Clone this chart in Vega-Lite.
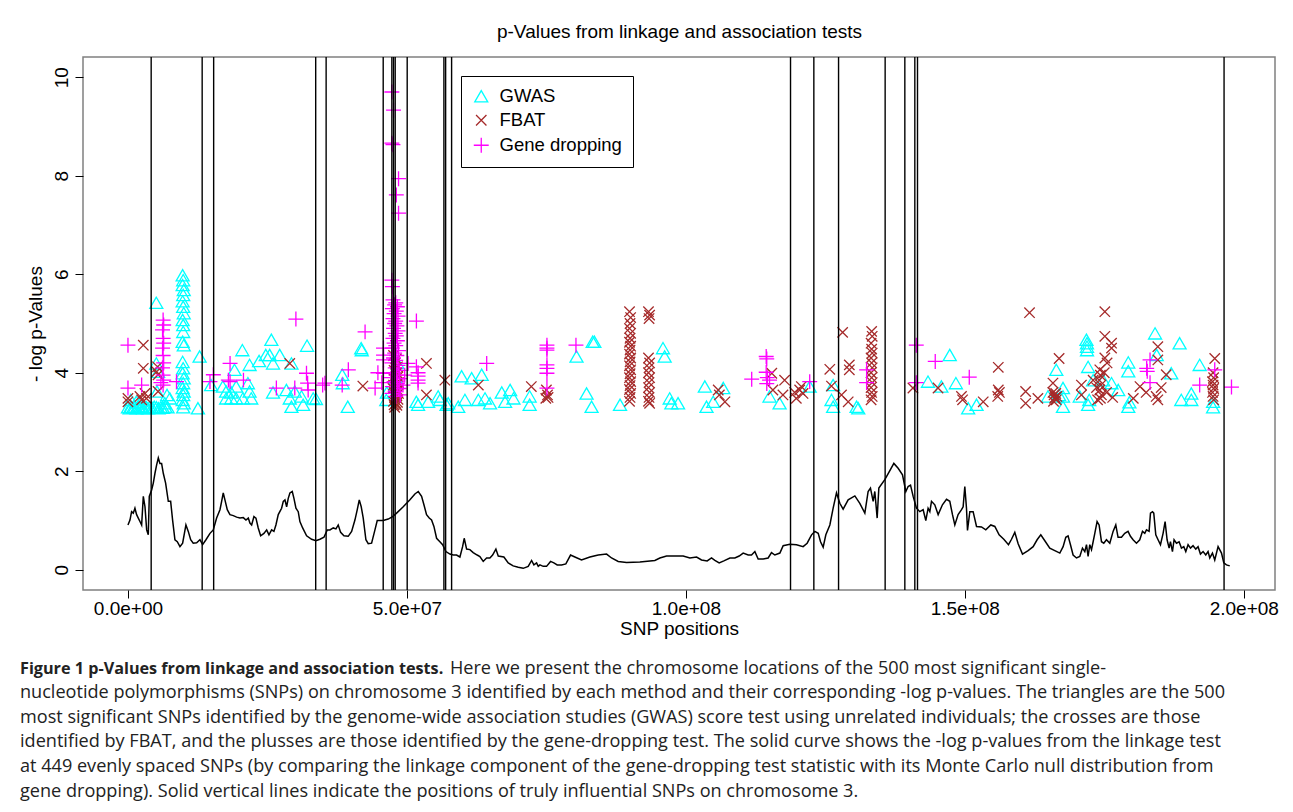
{
"$schema": "https://vega.github.io/schema/vega-lite/v6.json",
"width": 1192, "height": 533,
"autosize": {"type": "none"},
"padding": {"left": 83, "top": 57, "right": 18, "bottom": 222},
"background": "white",
"datasets": {
"snps": [
{"method":"GWAS","pos":0,"logp":3.3},{"method":"GWAS","pos":0.3,"logp":3.28},{"method":"GWAS","pos":0.6,"logp":3.31},{"method":"GWAS","pos":0.9,"logp":3.29},{"method":"GWAS","pos":1.2,"logp":3.3},{"method":"GWAS","pos":1.5,"logp":3.28},{"method":"GWAS","pos":1.8,"logp":3.32},{"method":"GWAS","pos":2.1,"logp":3.29},{"method":"GWAS","pos":2.4,"logp":3.3},{"method":"GWAS","pos":2.7,"logp":3.28},{"method":"GWAS","pos":3.0,"logp":3.31},{"method":"GWAS","pos":3.3,"logp":3.3},{"method":"GWAS","pos":3.6,"logp":3.28},{"method":"GWAS","pos":3.9,"logp":3.3},{"method":"GWAS","pos":4.3,"logp":3.29},{"method":"GWAS","pos":4.7,"logp":3.31},{"method":"GWAS","pos":5.1,"logp":3.3},{"method":"GWAS","pos":5.5,"logp":3.28},{"method":"GWAS","pos":5.9,"logp":3.3},{"method":"GWAS","pos":6.3,"logp":3.29},{"method":"GWAS","pos":6.7,"logp":3.31},{"method":"GWAS","pos":7.1,"logp":3.3},{"method":"GWAS","pos":1.5,"logp":3.41},{"method":"GWAS","pos":0.5,"logp":3.45},{"method":"GWAS","pos":2.2,"logp":3.38},{"method":"GWAS","pos":5.08,"logp":5.42},{"method":"GWAS","pos":5.08,"logp":4.19},{"method":"GWAS","pos":5.4,"logp":4.02},{"method":"GWAS","pos":5.2,"logp":3.62},{"method":"GWAS","pos":6.6,"logp":3.38},{"method":"GWAS","pos":7.5,"logp":3.48},{"method":"GWAS","pos":7.0,"logp":3.55},
{"method":"GWAS","pos":9.8,"logp":5.98},{"method":"GWAS","pos":9.9,"logp":5.88},{"method":"GWAS","pos":9.8,"logp":5.78},{"method":"GWAS","pos":10.0,"logp":5.68},{"method":"GWAS","pos":9.9,"logp":5.58},{"method":"GWAS","pos":9.8,"logp":5.45},{"method":"GWAS","pos":9.9,"logp":5.34},{"method":"GWAS","pos":10.0,"logp":5.21},{"method":"GWAS","pos":9.8,"logp":5.07},{"method":"GWAS","pos":9.9,"logp":4.97},{"method":"GWAS","pos":9.9,"logp":4.83},{"method":"GWAS","pos":9.8,"logp":4.63},{"method":"GWAS","pos":10.0,"logp":4.56},{"method":"GWAS","pos":9.8,"logp":4.22},{"method":"GWAS","pos":9.9,"logp":4.09},{"method":"GWAS","pos":9.8,"logp":3.99},{"method":"GWAS","pos":10.0,"logp":3.89},{"method":"GWAS","pos":9.9,"logp":3.79},{"method":"GWAS","pos":9.8,"logp":3.69},{"method":"GWAS","pos":10.0,"logp":3.62},{"method":"GWAS","pos":9.9,"logp":3.55},{"method":"GWAS","pos":9.8,"logp":3.45},{"method":"GWAS","pos":10.0,"logp":3.38},{"method":"GWAS","pos":9.9,"logp":3.3},
{"method":"GWAS","pos":12.84,"logp":4.33},{"method":"GWAS","pos":12.54,"logp":3.28},{"method":"GWAS","pos":14.9,"logp":3.75},{"method":"GWAS","pos":17.0,"logp":3.72},{"method":"GWAS","pos":17.6,"logp":3.62},{"method":"GWAS","pos":17.6,"logp":3.48},{"method":"GWAS","pos":18.5,"logp":3.48},{"method":"GWAS","pos":18.5,"logp":3.6},{"method":"GWAS","pos":19.4,"logp":3.48},{"method":"GWAS","pos":19.4,"logp":3.72},{"method":"GWAS","pos":19.1,"logp":4.06},{"method":"GWAS","pos":20.5,"logp":4.46},{"method":"GWAS","pos":20.6,"logp":3.48},{"method":"GWAS","pos":21.5,"logp":3.79},{"method":"GWAS","pos":21.8,"logp":3.62},{"method":"GWAS","pos":22.1,"logp":3.48},{"method":"GWAS","pos":21.8,"logp":4.16},{"method":"GWAS","pos":23.5,"logp":4.24},{"method":"GWAS","pos":24.7,"logp":4.36},{"method":"GWAS","pos":25.4,"logp":4.36},{"method":"GWAS","pos":25.7,"logp":4.67},{"method":"GWAS","pos":26.0,"logp":4.19},{"method":"GWAS","pos":27.2,"logp":4.36},{"method":"GWAS","pos":26.0,"logp":3.6},{"method":"GWAS","pos":28.4,"logp":3.65},{"method":"GWAS","pos":29.0,"logp":3.48},{"method":"GWAS","pos":29.3,"logp":3.31},{"method":"GWAS","pos":29.3,"logp":4.19},{"method":"GWAS","pos":29.9,"logp":3.62},{"method":"GWAS","pos":31.1,"logp":3.52},{"method":"GWAS","pos":31.4,"logp":3.35},{"method":"GWAS","pos":32.1,"logp":4.55},{"method":"GWAS","pos":33.2,"logp":3.48},{"method":"GWAS","pos":33.7,"logp":3.47},{"method":"GWAS","pos":38.4,"logp":3.96},{"method":"GWAS","pos":38.5,"logp":3.79},{"method":"GWAS","pos":39.4,"logp":3.31},{"method":"GWAS","pos":41.8,"logp":4.5},{"method":"GWAS","pos":41.9,"logp":4.46},{"method":"GWAS","pos":46.3,"logp":3.45},{"method":"GWAS","pos":46.4,"logp":3.6},{"method":"GWAS","pos":48.0,"logp":3.9},{"method":"GWAS","pos":48.3,"logp":4.2},
{"method":"GWAS","pos":51.7,"logp":3.41},{"method":"GWAS","pos":52.0,"logp":3.35},{"method":"GWAS","pos":53.8,"logp":3.41},{"method":"GWAS","pos":55.6,"logp":3.52},{"method":"GWAS","pos":55.9,"logp":3.45},{"method":"GWAS","pos":57.1,"logp":3.35},{"method":"GWAS","pos":57.4,"logp":3.38},{"method":"GWAS","pos":59.2,"logp":3.31},{"method":"GWAS","pos":59.8,"logp":3.93},{"method":"GWAS","pos":60.4,"logp":3.45},{"method":"GWAS","pos":61.6,"logp":3.89},{"method":"GWAS","pos":62.8,"logp":3.45},{"method":"GWAS","pos":63.4,"logp":3.96},{"method":"GWAS","pos":64.0,"logp":3.48},{"method":"GWAS","pos":64.9,"logp":3.38},{"method":"GWAS","pos":67.0,"logp":3.6},{"method":"GWAS","pos":67.6,"logp":3.41},{"method":"GWAS","pos":68.5,"logp":3.65},{"method":"GWAS","pos":69.1,"logp":3.48},{"method":"GWAS","pos":72.0,"logp":3.52},{"method":"GWAS","pos":72.0,"logp":3.35},
{"method":"GWAS","pos":80.4,"logp":4.33},{"method":"GWAS","pos":82.2,"logp":3.58},{"method":"GWAS","pos":83.1,"logp":3.31},{"method":"GWAS","pos":83.3,"logp":4.63},{"method":"GWAS","pos":83.6,"logp":4.63},{"method":"GWAS","pos":88.2,"logp":3.35},{"method":"GWAS","pos":95.9,"logp":4.5},{"method":"GWAS","pos":96.2,"logp":4.33},{"method":"GWAS","pos":97.1,"logp":3.48},{"method":"GWAS","pos":97.4,"logp":3.38},{"method":"GWAS","pos":98.6,"logp":3.38},{"method":"GWAS","pos":103.4,"logp":3.72},{"method":"GWAS","pos":103.7,"logp":3.31},{"method":"GWAS","pos":104.9,"logp":3.41},{"method":"GWAS","pos":106.7,"logp":3.69},{"method":"GWAS","pos":115.0,"logp":3.52},{"method":"GWAS","pos":116.8,"logp":3.38},{"method":"GWAS","pos":122.2,"logp":3.72},{"method":"GWAS","pos":126.4,"logp":3.75},{"method":"GWAS","pos":126.1,"logp":3.45},{"method":"GWAS","pos":126.4,"logp":3.31},{"method":"GWAS","pos":130.6,"logp":3.31},{"method":"GWAS","pos":130.9,"logp":3.28},
{"method":"GWAS","pos":143.4,"logp":3.82},{"method":"GWAS","pos":145.8,"logp":3.72},{"method":"GWAS","pos":147.3,"logp":4.36},{"method":"GWAS","pos":148.4,"logp":3.79},{"method":"GWAS","pos":150.6,"logp":3.28},{"method":"GWAS","pos":152.1,"logp":3.35},{"method":"GWAS","pos":164.9,"logp":3.52},{"method":"GWAS","pos":166.4,"logp":4.06},{"method":"GWAS","pos":166.9,"logp":3.55},{"method":"GWAS","pos":167.6,"logp":3.69},{"method":"GWAS","pos":167.6,"logp":3.52},{"method":"GWAS","pos":167.6,"logp":3.31},{"method":"GWAS","pos":171.8,"logp":4.67},{"method":"GWAS","pos":171.9,"logp":4.6},{"method":"GWAS","pos":171.9,"logp":4.53},{"method":"GWAS","pos":171.9,"logp":4.46},{"method":"GWAS","pos":172.1,"logp":4.12},{"method":"GWAS","pos":170.6,"logp":3.52},{"method":"GWAS","pos":172.1,"logp":3.35},{"method":"GWAS","pos":172.3,"logp":3.45},{"method":"GWAS","pos":173.0,"logp":3.85},{"method":"GWAS","pos":174.8,"logp":3.85},{"method":"GWAS","pos":176.3,"logp":3.79},{"method":"GWAS","pos":177.5,"logp":3.65},{"method":"GWAS","pos":179.3,"logp":4.21},{"method":"GWAS","pos":179.3,"logp":4.03},{"method":"GWAS","pos":179.3,"logp":3.31},{"method":"GWAS","pos":179.5,"logp":3.4},{"method":"GWAS","pos":184.1,"logp":4.8},{"method":"GWAS","pos":184.4,"logp":4.36},{"method":"GWAS","pos":187.0,"logp":3.99},{"method":"GWAS","pos":188.5,"logp":4.6},{"method":"GWAS","pos":188.8,"logp":3.45},{"method":"GWAS","pos":190.6,"logp":3.58},{"method":"GWAS","pos":190.6,"logp":3.45},{"method":"GWAS","pos":192.1,"logp":4.16},{"method":"GWAS","pos":194.5,"logp":3.41},{"method":"GWAS","pos":194.5,"logp":3.3},
{"method":"FBAT","pos":0,"logp":3.48},{"method":"FBAT","pos":0,"logp":3.41},{"method":"FBAT","pos":2.15,"logp":3.52},{"method":"FBAT","pos":2.45,"logp":3.45},{"method":"FBAT","pos":2.75,"logp":4.56},{"method":"FBAT","pos":2.75,"logp":4.09},{"method":"FBAT","pos":3.05,"logp":3.58},{"method":"FBAT","pos":3.3,"logp":3.48},{"method":"FBAT","pos":5.14,"logp":4.02},{"method":"FBAT","pos":5.4,"logp":3.96},{"method":"FBAT","pos":5.4,"logp":3.62},{"method":"FBAT","pos":5.3,"logp":4.12},{"method":"FBAT","pos":29.0,"logp":4.19},{"method":"FBAT","pos":42.1,"logp":3.73},
{"method":"FBAT","pos":47.6,"logp":4.35},{"method":"FBAT","pos":48.1,"logp":4.28},{"method":"FBAT","pos":47.9,"logp":4.2},{"method":"FBAT","pos":48.3,"logp":4.12},{"method":"FBAT","pos":47.7,"logp":4.05},{"method":"FBAT","pos":48.0,"logp":3.98},{"method":"FBAT","pos":48.4,"logp":3.92},{"method":"FBAT","pos":47.8,"logp":3.86},{"method":"FBAT","pos":48.2,"logp":3.8},{"method":"FBAT","pos":47.6,"logp":3.75},{"method":"FBAT","pos":48.0,"logp":3.7},{"method":"FBAT","pos":48.3,"logp":3.65},{"method":"FBAT","pos":47.7,"logp":3.6},{"method":"FBAT","pos":48.1,"logp":3.55},{"method":"FBAT","pos":47.9,"logp":3.5},{"method":"FBAT","pos":48.4,"logp":3.46},{"method":"FBAT","pos":47.6,"logp":3.42},{"method":"FBAT","pos":48.0,"logp":3.38},{"method":"FBAT","pos":48.2,"logp":3.34},{"method":"FBAT","pos":47.8,"logp":3.3},{"method":"FBAT","pos":48.5,"logp":3.58},{"method":"FBAT","pos":47.5,"logp":3.68},{"method":"FBAT","pos":48.5,"logp":3.8},{"method":"FBAT","pos":47.5,"logp":3.9},{"method":"FBAT","pos":48.2,"logp":4.0},{"method":"FBAT","pos":47.9,"logp":4.1},{"method":"FBAT","pos":48.1,"logp":3.62},{"method":"FBAT","pos":47.8,"logp":3.52},{"method":"FBAT","pos":48.3,"logp":3.4},{"method":"FBAT","pos":47.7,"logp":3.35},
{"method":"FBAT","pos":53.5,"logp":4.19},{"method":"FBAT","pos":53.5,"logp":3.55},{"method":"FBAT","pos":56.8,"logp":3.85},{"method":"FBAT","pos":62.8,"logp":3.75},{"method":"FBAT","pos":72.3,"logp":3.72},{"method":"FBAT","pos":75.0,"logp":3.65},{"method":"FBAT","pos":75.2,"logp":3.55},{"method":"FBAT","pos":74.9,"logp":3.48},{"method":"FBAT","pos":75.3,"logp":3.5},
{"method":"FBAT","pos":89.9,"logp":5.24},{"method":"FBAT","pos":90.1,"logp":5.12},{"method":"FBAT","pos":90.0,"logp":5.0},{"method":"FBAT","pos":89.9,"logp":4.9},{"method":"FBAT","pos":90.1,"logp":4.8},{"method":"FBAT","pos":90.0,"logp":4.7},{"method":"FBAT","pos":89.9,"logp":4.62},{"method":"FBAT","pos":90.1,"logp":4.54},{"method":"FBAT","pos":90.0,"logp":4.46},{"method":"FBAT","pos":89.9,"logp":4.38},{"method":"FBAT","pos":90.1,"logp":4.3},{"method":"FBAT","pos":90.0,"logp":4.22},{"method":"FBAT","pos":89.9,"logp":4.14},{"method":"FBAT","pos":90.1,"logp":4.06},{"method":"FBAT","pos":90.0,"logp":3.98},{"method":"FBAT","pos":89.9,"logp":3.9},{"method":"FBAT","pos":90.1,"logp":3.82},{"method":"FBAT","pos":90.0,"logp":3.74},{"method":"FBAT","pos":89.9,"logp":3.66},{"method":"FBAT","pos":90.1,"logp":3.58},{"method":"FBAT","pos":90.0,"logp":3.5},{"method":"FBAT","pos":89.9,"logp":3.42},
{"method":"FBAT","pos":93.3,"logp":5.24},{"method":"FBAT","pos":93.5,"logp":5.17},{"method":"FBAT","pos":93.4,"logp":5.1},{"method":"FBAT","pos":93.3,"logp":4.3},{"method":"FBAT","pos":93.5,"logp":4.2},{"method":"FBAT","pos":93.4,"logp":4.1},{"method":"FBAT","pos":93.3,"logp":4.0},{"method":"FBAT","pos":93.5,"logp":3.9},{"method":"FBAT","pos":93.4,"logp":3.8},{"method":"FBAT","pos":93.3,"logp":3.7},{"method":"FBAT","pos":93.5,"logp":3.6},{"method":"FBAT","pos":93.4,"logp":3.5},{"method":"FBAT","pos":93.3,"logp":3.42},{"method":"FBAT","pos":93.5,"logp":3.38},
{"method":"FBAT","pos":105.8,"logp":3.65},{"method":"FBAT","pos":106.0,"logp":3.55},{"method":"FBAT","pos":107.0,"logp":3.41},{"method":"FBAT","pos":115.4,"logp":3.99},{"method":"FBAT","pos":115.6,"logp":3.65},{"method":"FBAT","pos":117.7,"logp":3.85},{"method":"FBAT","pos":117.4,"logp":3.55},{"method":"FBAT","pos":119.8,"logp":3.48},{"method":"FBAT","pos":120.4,"logp":3.65},{"method":"FBAT","pos":121.0,"logp":3.58},{"method":"FBAT","pos":120.7,"logp":3.72},{"method":"FBAT","pos":119.5,"logp":3.6},
{"method":"FBAT","pos":128.1,"logp":4.82},{"method":"FBAT","pos":125.8,"logp":4.07},{"method":"FBAT","pos":126.1,"logp":3.73},{"method":"FBAT","pos":127.9,"logp":3.55},{"method":"FBAT","pos":129.1,"logp":3.41},{"method":"FBAT","pos":129.3,"logp":4.16},{"method":"FBAT","pos":129.3,"logp":4.06},
{"method":"FBAT","pos":133.3,"logp":4.84},{"method":"FBAT","pos":133.4,"logp":4.74},{"method":"FBAT","pos":133.2,"logp":4.6},{"method":"FBAT","pos":133.3,"logp":4.48},{"method":"FBAT","pos":133.4,"logp":4.4},{"method":"FBAT","pos":133.2,"logp":4.3},{"method":"FBAT","pos":133.3,"logp":4.2},{"method":"FBAT","pos":133.4,"logp":4.1},{"method":"FBAT","pos":133.2,"logp":4.0},{"method":"FBAT","pos":133.3,"logp":3.9},{"method":"FBAT","pos":133.4,"logp":3.8},{"method":"FBAT","pos":133.2,"logp":3.7},{"method":"FBAT","pos":133.3,"logp":3.6},{"method":"FBAT","pos":133.4,"logp":3.52},{"method":"FBAT","pos":133.2,"logp":3.45},
{"method":"FBAT","pos":140.7,"logp":3.69},{"method":"FBAT","pos":145.2,"logp":3.69},{"method":"FBAT","pos":149.4,"logp":3.52},{"method":"FBAT","pos":149.6,"logp":3.45},{"method":"FBAT","pos":153.3,"logp":3.41},{"method":"FBAT","pos":156.0,"logp":4.11},{"method":"FBAT","pos":156.0,"logp":3.65},{"method":"FBAT","pos":156.2,"logp":3.6},{"method":"FBAT","pos":155.9,"logp":3.52},{"method":"FBAT","pos":161.6,"logp":5.22},{"method":"FBAT","pos":160.9,"logp":3.62},{"method":"FBAT","pos":160.9,"logp":3.38},{"method":"FBAT","pos":163.1,"logp":3.48},
{"method":"FBAT","pos":165.8,"logp":3.6},{"method":"FBAT","pos":166.0,"logp":3.55},{"method":"FBAT","pos":166.2,"logp":3.5},{"method":"FBAT","pos":166.4,"logp":3.45},{"method":"FBAT","pos":165.9,"logp":3.42},{"method":"FBAT","pos":166.3,"logp":3.58},{"method":"FBAT","pos":166.1,"logp":3.48},{"method":"FBAT","pos":166.5,"logp":3.52},{"method":"FBAT","pos":165.8,"logp":3.79},{"method":"FBAT","pos":166.9,"logp":4.29},{"method":"FBAT","pos":170.9,"logp":3.75},{"method":"FBAT","pos":170.9,"logp":3.55},{"method":"FBAT","pos":173.0,"logp":3.85},
{"method":"FBAT","pos":174.2,"logp":4.06},{"method":"FBAT","pos":174.3,"logp":3.95},{"method":"FBAT","pos":174.1,"logp":3.85},{"method":"FBAT","pos":174.4,"logp":3.75},{"method":"FBAT","pos":174.2,"logp":3.65},{"method":"FBAT","pos":174.5,"logp":3.55},{"method":"FBAT","pos":174.3,"logp":3.48},{"method":"FBAT","pos":175.1,"logp":5.24},{"method":"FBAT","pos":175.1,"logp":4.74},{"method":"FBAT","pos":176.3,"logp":4.6},{"method":"FBAT","pos":176.3,"logp":4.5},{"method":"FBAT","pos":175.1,"logp":4.3},{"method":"FBAT","pos":175.5,"logp":4.2},{"method":"FBAT","pos":175.0,"logp":4.0},{"method":"FBAT","pos":175.4,"logp":3.6},{"method":"FBAT","pos":173.6,"logp":3.7},{"method":"FBAT","pos":176.5,"logp":3.5},{"method":"FBAT","pos":173.8,"logp":3.45},
{"method":"FBAT","pos":180.2,"logp":3.48},{"method":"FBAT","pos":181.4,"logp":3.72},{"method":"FBAT","pos":182.5,"logp":3.6},{"method":"FBAT","pos":184.6,"logp":4.53},{"method":"FBAT","pos":184.6,"logp":4.26},{"method":"FBAT","pos":184.3,"logp":3.52},{"method":"FBAT","pos":184.6,"logp":3.45},{"method":"FBAT","pos":186.1,"logp":3.96},{"method":"FBAT","pos":185.2,"logp":3.7},
{"method":"FBAT","pos":194.8,"logp":4.29},{"method":"FBAT","pos":194.5,"logp":4.0},{"method":"FBAT","pos":194.6,"logp":3.9},{"method":"FBAT","pos":194.4,"logp":3.82},{"method":"FBAT","pos":194.5,"logp":3.75},{"method":"FBAT","pos":194.6,"logp":3.68},{"method":"FBAT","pos":194.4,"logp":3.6},{"method":"FBAT","pos":194.5,"logp":3.52},{"method":"FBAT","pos":194.6,"logp":3.45},
{"method":"Gene dropping","pos":0,"logp":4.56},{"method":"Gene dropping","pos":0,"logp":3.69},{"method":"Gene dropping","pos":2.45,"logp":3.75},
{"method":"Gene dropping","pos":6.3,"logp":5.07},{"method":"Gene dropping","pos":6.4,"logp":4.97},{"method":"Gene dropping","pos":6.2,"logp":4.87},{"method":"Gene dropping","pos":6.3,"logp":4.7},{"method":"Gene dropping","pos":6.4,"logp":4.6},{"method":"Gene dropping","pos":6.2,"logp":4.5},{"method":"Gene dropping","pos":6.3,"logp":4.35},{"method":"Gene dropping","pos":6.4,"logp":4.2},{"method":"Gene dropping","pos":6.2,"logp":4.1},{"method":"Gene dropping","pos":6.3,"logp":3.95},{"method":"Gene dropping","pos":6.4,"logp":3.85},{"method":"Gene dropping","pos":6.3,"logp":3.75},{"method":"Gene dropping","pos":5.9,"logp":3.8},
{"method":"Gene dropping","pos":8.7,"logp":3.82},{"method":"Gene dropping","pos":14.7,"logp":3.82},{"method":"Gene dropping","pos":15.3,"logp":3.96},{"method":"Gene dropping","pos":18.3,"logp":4.19},{"method":"Gene dropping","pos":18.3,"logp":3.82},{"method":"Gene dropping","pos":18.0,"logp":3.85},{"method":"Gene dropping","pos":20.7,"logp":3.85},{"method":"Gene dropping","pos":26.6,"logp":3.69},{"method":"Gene dropping","pos":30.1,"logp":5.09},{"method":"Gene dropping","pos":29.9,"logp":3.69},{"method":"Gene dropping","pos":32.0,"logp":3.99},{"method":"Gene dropping","pos":32.2,"logp":3.79},{"method":"Gene dropping","pos":32.3,"logp":3.65},{"method":"Gene dropping","pos":35.3,"logp":3.79},{"method":"Gene dropping","pos":34.9,"logp":3.75},{"method":"Gene dropping","pos":38.4,"logp":3.75},{"method":"Gene dropping","pos":39.5,"logp":4.06},{"method":"Gene dropping","pos":42.5,"logp":4.83},
{"method":"Gene dropping","pos":44.3,"logp":3.69},{"method":"Gene dropping","pos":44.8,"logp":4.0},{"method":"Gene dropping","pos":45.8,"logp":4.5},{"method":"Gene dropping","pos":45.8,"logp":4.36},{"method":"Gene dropping","pos":45.8,"logp":4.26},{"method":"Gene dropping","pos":45.8,"logp":3.99},{"method":"Gene dropping","pos":45.5,"logp":3.8},
{"method":"Gene dropping","pos":47.3,"logp":9.7},{"method":"Gene dropping","pos":47.6,"logp":9.33},{"method":"Gene dropping","pos":47.3,"logp":8.66},{"method":"Gene dropping","pos":47.5,"logp":8.63},{"method":"Gene dropping","pos":48.5,"logp":7.94},{"method":"Gene dropping","pos":48.1,"logp":7.61},{"method":"Gene dropping","pos":48.5,"logp":7.24},{"method":"Gene dropping","pos":47.3,"logp":5.88},{"method":"Gene dropping","pos":47.4,"logp":5.75},
{"method":"Gene dropping","pos":47.5,"logp":5.48},{"method":"Gene dropping","pos":48.0,"logp":5.42},{"method":"Gene dropping","pos":47.8,"logp":5.38},{"method":"Gene dropping","pos":48.3,"logp":5.34},{"method":"Gene dropping","pos":47.4,"logp":5.3},{"method":"Gene dropping","pos":48.1,"logp":5.25},{"method":"Gene dropping","pos":47.7,"logp":5.2},{"method":"Gene dropping","pos":48.4,"logp":5.15},{"method":"Gene dropping","pos":47.5,"logp":5.1},{"method":"Gene dropping","pos":48.0,"logp":5.05},{"method":"Gene dropping","pos":47.8,"logp":5.0},{"method":"Gene dropping","pos":48.2,"logp":4.95},{"method":"Gene dropping","pos":47.6,"logp":4.9},{"method":"Gene dropping","pos":48.4,"logp":4.85},{"method":"Gene dropping","pos":47.9,"logp":4.8},{"method":"Gene dropping","pos":48.1,"logp":4.75},{"method":"Gene dropping","pos":47.5,"logp":4.7},{"method":"Gene dropping","pos":48.3,"logp":4.65},{"method":"Gene dropping","pos":47.7,"logp":4.6},{"method":"Gene dropping","pos":48.0,"logp":4.55},{"method":"Gene dropping","pos":47.4,"logp":4.5},{"method":"Gene dropping","pos":48.5,"logp":4.45},{"method":"Gene dropping","pos":47.8,"logp":4.4},{"method":"Gene dropping","pos":48.2,"logp":4.35},{"method":"Gene dropping","pos":47.6,"logp":4.3},{"method":"Gene dropping","pos":48.0,"logp":4.25},{"method":"Gene dropping","pos":47.3,"logp":4.2},{"method":"Gene dropping","pos":48.4,"logp":4.15},{"method":"Gene dropping","pos":47.9,"logp":4.1},{"method":"Gene dropping","pos":48.6,"logp":4.05},{"method":"Gene dropping","pos":47.5,"logp":4.0},{"method":"Gene dropping","pos":48.1,"logp":3.95},{"method":"Gene dropping","pos":47.2,"logp":3.9},{"method":"Gene dropping","pos":48.7,"logp":3.88},{"method":"Gene dropping","pos":47.7,"logp":3.82},{"method":"Gene dropping","pos":48.3,"logp":3.78},{"method":"Gene dropping","pos":47.4,"logp":3.72},{"method":"Gene dropping","pos":48.6,"logp":3.68},{"method":"Gene dropping","pos":47.9,"logp":3.62},{"method":"Gene dropping","pos":47.3,"logp":3.58},{"method":"Gene dropping","pos":48.8,"logp":3.55},{"method":"Gene dropping","pos":48.0,"logp":3.52},
{"method":"Gene dropping","pos":49.3,"logp":3.75},{"method":"Gene dropping","pos":49.6,"logp":3.95},{"method":"Gene dropping","pos":50.2,"logp":4.19},{"method":"Gene dropping","pos":51.7,"logp":5.05},{"method":"Gene dropping","pos":51.7,"logp":4.12},{"method":"Gene dropping","pos":52.0,"logp":4.0},{"method":"Gene dropping","pos":52.0,"logp":3.93},{"method":"Gene dropping","pos":52.0,"logp":3.85},{"method":"Gene dropping","pos":52.0,"logp":3.79},{"method":"Gene dropping","pos":64.3,"logp":4.19},
{"method":"Gene dropping","pos":75.1,"logp":4.56},{"method":"Gene dropping","pos":75.1,"logp":4.5},{"method":"Gene dropping","pos":75.1,"logp":4.46},{"method":"Gene dropping","pos":75.1,"logp":4.16},{"method":"Gene dropping","pos":75.1,"logp":4.09},{"method":"Gene dropping","pos":75.1,"logp":3.99},{"method":"Gene dropping","pos":75.1,"logp":3.69},{"method":"Gene dropping","pos":80.3,"logp":4.56},
{"method":"Gene dropping","pos":111.8,"logp":3.87},{"method":"Gene dropping","pos":114.4,"logp":4.33},{"method":"Gene dropping","pos":114.5,"logp":4.28},{"method":"Gene dropping","pos":114.4,"logp":4.01},{"method":"Gene dropping","pos":114.6,"logp":3.9},{"method":"Gene dropping","pos":114.5,"logp":3.78},{"method":"Gene dropping","pos":115.0,"logp":3.85},{"method":"Gene dropping","pos":122.2,"logp":3.82},{"method":"Gene dropping","pos":132.4,"logp":4.06},{"method":"Gene dropping","pos":132.4,"logp":3.8},{"method":"Gene dropping","pos":141.3,"logp":4.56},{"method":"Gene dropping","pos":141.3,"logp":3.8},{"method":"Gene dropping","pos":144.7,"logp":4.23},{"method":"Gene dropping","pos":150.8,"logp":3.91},{"method":"Gene dropping","pos":183.2,"logp":4.26},{"method":"Gene dropping","pos":182.6,"logp":4.09},{"method":"Gene dropping","pos":182.7,"logp":4.03},{"method":"Gene dropping","pos":183.2,"logp":3.8},{"method":"Gene dropping","pos":192.1,"logp":3.75},{"method":"Gene dropping","pos":194.8,"logp":4.06},{"method":"Gene dropping","pos":197.8,"logp":3.71}
],
"linkage": [
{"pos":0,"logp":0.91},{"pos":0.36,"logp":1.01},{"pos":0.65,"logp":1.18},{"pos":0.95,"logp":1.15},{"pos":1.25,"logp":1.25},{"pos":1.55,"logp":1.12},{"pos":1.85,"logp":1.05},{"pos":2.15,"logp":0.98},{"pos":2.45,"logp":0.91},{"pos":2.75,"logp":1.49},{"pos":3.05,"logp":1.28},{"pos":3.35,"logp":0.81},{"pos":3.64,"logp":0.71},{"pos":3.82,"logp":1.49},{"pos":4.24,"logp":1.62},{"pos":4.54,"logp":1.76},{"pos":4.84,"logp":1.96},{"pos":5.14,"logp":2.13},{"pos":5.44,"logp":2.27},{"pos":5.73,"logp":2.16},{"pos":6.03,"logp":2.16},{"pos":6.33,"logp":1.96},{"pos":6.75,"logp":1.76},{"pos":7.23,"logp":1.39},{"pos":7.65,"logp":1.39},{"pos":8.0,"logp":1.01},{"pos":8.42,"logp":0.61},{"pos":8.84,"logp":0.57},{"pos":9.32,"logp":0.47},{"pos":9.8,"logp":0.54},{"pos":10.39,"logp":0.91},{"pos":10.81,"logp":0.78},{"pos":11.24,"logp":0.61},{"pos":11.7,"logp":0.54},{"pos":12.31,"logp":0.55},{"pos":12.9,"logp":0.61},{"pos":13.38,"logp":0.51},{"pos":13.98,"logp":0.61},{"pos":14.7,"logp":0.74},{"pos":15.29,"logp":0.81},{"pos":15.89,"logp":1.05},{"pos":16.49,"logp":1.22},{"pos":16.79,"logp":1.39},{"pos":17.08,"logp":1.56},{"pos":17.38,"logp":1.42},{"pos":17.8,"logp":1.22},{"pos":18.28,"logp":1.12},{"pos":18.88,"logp":1.1},{"pos":19.48,"logp":1.07},{"pos":20.07,"logp":1.05},{"pos":20.67,"logp":1.06},{"pos":21.15,"logp":1.01},{"pos":21.57,"logp":1.05},{"pos":21.86,"logp":0.95},{"pos":22.17,"logp":0.91},{"pos":22.58,"logp":1.08},{"pos":22.94,"logp":1.05},{"pos":23.35,"logp":0.85},{"pos":23.78,"logp":0.69},{"pos":24.37,"logp":0.74},{"pos":24.86,"logp":0.81},{"pos":25.27,"logp":0.71},{"pos":25.75,"logp":0.81},{"pos":26.16,"logp":0.78},{"pos":26.52,"logp":0.91},{"pos":26.94,"logp":1.12},{"pos":27.54,"logp":1.25},{"pos":27.84,"logp":1.39},{"pos":28.14,"logp":1.42},{"pos":28.44,"logp":1.28},{"pos":28.73,"logp":1.45},{"pos":29.03,"logp":1.56},{"pos":29.45,"logp":1.59},{"pos":29.75,"logp":1.45},{"pos":30.11,"logp":1.25},{"pos":30.52,"logp":1.18},{"pos":30.82,"logp":0.98},{"pos":31.31,"logp":0.85},{"pos":32.02,"logp":0.69},{"pos":32.92,"logp":0.62},{"pos":33.69,"logp":0.59},{"pos":34.41,"logp":0.62},{"pos":35.13,"logp":0.66},{"pos":35.72,"logp":0.81},{"pos":36.2,"logp":0.81},{"pos":36.8,"logp":0.85},{"pos":37.28,"logp":0.83},{"pos":37.69,"logp":0.91},{"pos":38.12,"logp":0.76},{"pos":38.71,"logp":0.69},{"pos":39.48,"logp":0.68},{"pos":40.09,"logp":0.78},{"pos":40.68,"logp":1.01},{"pos":41.1,"logp":1.22},{"pos":41.46,"logp":1.42},{"pos":41.81,"logp":1.28},{"pos":42.17,"logp":1.05},{"pos":42.65,"logp":0.61},{"pos":43.07,"logp":0.53},{"pos":43.67,"logp":0.54},{"pos":44.27,"logp":0.81},{"pos":44.68,"logp":1.0},{"pos":45.75,"logp":1.0},{"pos":46.65,"logp":1.03},{"pos":47.44,"logp":1.08},{"pos":48.15,"logp":1.15},{"pos":49.34,"logp":1.28},{"pos":50.54,"logp":1.42},{"pos":51.43,"logp":1.54},{"pos":52.03,"logp":1.59},{"pos":52.63,"logp":1.49},{"pos":53.05,"logp":1.32},{"pos":53.52,"logp":1.12},{"pos":54.0,"logp":1.05},{"pos":54.42,"logp":1.01},{"pos":54.84,"logp":0.88},{"pos":55.32,"logp":0.64},{"pos":55.91,"logp":0.57},{"pos":56.4,"logp":0.51},{"pos":56.99,"logp":0.37},{"pos":57.71,"logp":0.32},{"pos":58.3,"logp":0.3},{"pos":58.9,"logp":0.3},{"pos":59.5,"logp":0.26},{"pos":59.98,"logp":0.47},{"pos":60.27,"logp":0.64},{"pos":60.7,"logp":0.42},{"pos":61.29,"logp":0.41},{"pos":61.88,"logp":0.35},{"pos":62.6,"logp":0.3},{"pos":63.08,"logp":0.27},{"pos":63.68,"logp":0.17},{"pos":64.28,"logp":0.24},{"pos":64.87,"logp":0.24},{"pos":65.36,"logp":0.3},{"pos":65.95,"logp":0.42},{"pos":66.37,"logp":0.28},{"pos":67.38,"logp":0.26},{"pos":68.16,"logp":0.14},{"pos":69.05,"logp":0.08},{"pos":69.95,"logp":0.05},{"pos":70.85,"logp":0.03},{"pos":71.74,"logp":0.07},{"pos":72.35,"logp":0.19},{"pos":72.76,"logp":0.1},{"pos":73.24,"logp":0.14},{"pos":73.54,"logp":0.07},{"pos":73.84,"logp":0.1},{"pos":74.43,"logp":0.07},{"pos":75.03,"logp":0.07},{"pos":75.75,"logp":0.17},{"pos":76.34,"logp":0.14},{"pos":76.94,"logp":0.1},{"pos":77.72,"logp":0.1},{"pos":78.49,"logp":0.12},{"pos":79.33,"logp":0.3},{"pos":80.11,"logp":0.26},{"pos":81.3,"logp":0.2},{"pos":82.8,"logp":0.26},{"pos":84.29,"logp":0.3},{"pos":85.79,"logp":0.32},{"pos":86.68,"logp":0.24},{"pos":87.87,"logp":0.17},{"pos":89.37,"logp":0.15},{"pos":91.76,"logp":0.16},{"pos":94.44,"logp":0.19},{"pos":95.34,"logp":0.24},{"pos":96.54,"logp":0.28},{"pos":98.03,"logp":0.28},{"pos":99.52,"logp":0.28},{"pos":100.72,"logp":0.24},{"pos":101.92,"logp":0.26},{"pos":102.81,"logp":0.2},{"pos":103.82,"logp":0.18},{"pos":104.6,"logp":0.24},{"pos":105.2,"logp":0.19},{"pos":105.97,"logp":0.14},{"pos":106.81,"logp":0.18},{"pos":107.89,"logp":0.24},{"pos":108.78,"logp":0.24},{"pos":109.56,"logp":0.28},{"pos":110.27,"logp":0.34},{"pos":111.17,"logp":0.3},{"pos":111.77,"logp":0.3},{"pos":112.37,"logp":0.37},{"pos":112.96,"logp":0.22},{"pos":113.86,"logp":0.22},{"pos":114.75,"logp":0.24},{"pos":115.35,"logp":0.35},{"pos":115.95,"logp":0.3},{"pos":116.85,"logp":0.34},{"pos":117.44,"logp":0.49},{"pos":118.64,"logp":0.52},{"pos":119.83,"logp":0.51},{"pos":121.02,"logp":0.47},{"pos":121.74,"logp":0.54},{"pos":122.53,"logp":0.71},{"pos":123.12,"logp":0.78},{"pos":123.72,"logp":0.74},{"pos":124.14,"logp":0.57},{"pos":124.61,"logp":0.46},{"pos":125.09,"logp":0.71},{"pos":125.81,"logp":0.91},{"pos":126.4,"logp":1.25},{"pos":127.0,"logp":1.56},{"pos":127.6,"logp":1.35},{"pos":128.19,"logp":1.23},{"pos":129.09,"logp":1.42},{"pos":130.29,"logp":1.5},{"pos":131.18,"logp":1.35},{"pos":132.08,"logp":1.15},{"pos":132.67,"logp":1.59},{"pos":133.09,"logp":1.66},{"pos":133.57,"logp":1.39},{"pos":133.87,"logp":1.59},{"pos":134.29,"logp":1.05},{"pos":134.59,"logp":1.66},{"pos":135.66,"logp":1.83},{"pos":136.44,"logp":1.99},{"pos":137.28,"logp":2.16},{"pos":138.05,"logp":2.06},{"pos":138.83,"logp":1.93},{"pos":139.43,"logp":1.59},{"pos":139.84,"logp":1.69},{"pos":140.27,"logp":1.72},{"pos":140.74,"logp":1.49},{"pos":141.34,"logp":1.25},{"pos":141.94,"logp":1.18},{"pos":142.53,"logp":1.22},{"pos":143.01,"logp":1.0},{"pos":143.42,"logp":1.25},{"pos":143.73,"logp":1.18},{"pos":144.03,"logp":1.39},{"pos":144.62,"logp":1.32},{"pos":145.22,"logp":1.12},{"pos":145.99,"logp":1.32},{"pos":146.72,"logp":1.43},{"pos":147.31,"logp":1.39},{"pos":147.79,"logp":1.12},{"pos":148.21,"logp":0.91},{"pos":148.8,"logp":1.12},{"pos":149.41,"logp":1.22},{"pos":149.7,"logp":1.28},{"pos":150.0,"logp":1.69},{"pos":150.3,"logp":1.25},{"pos":150.48,"logp":0.8},{"pos":150.9,"logp":1.18},{"pos":151.49,"logp":1.18},{"pos":152.1,"logp":0.88},{"pos":152.99,"logp":0.87},{"pos":153.76,"logp":0.81},{"pos":154.66,"logp":0.91},{"pos":155.38,"logp":0.88},{"pos":156.15,"logp":0.71},{"pos":156.99,"logp":0.62},{"pos":157.83,"logp":0.51},{"pos":158.37,"logp":0.62},{"pos":158.96,"logp":0.76},{"pos":159.56,"logp":0.53},{"pos":160.34,"logp":0.32},{"pos":161.35,"logp":0.39},{"pos":162.25,"logp":0.47},{"pos":162.96,"logp":0.61},{"pos":163.62,"logp":0.71},{"pos":164.34,"logp":0.59},{"pos":165.23,"logp":0.44},{"pos":166.13,"logp":0.39},{"pos":167.03,"logp":0.34},{"pos":167.62,"logp":0.47},{"pos":168.1,"logp":0.66},{"pos":168.51,"logp":0.69},{"pos":168.94,"logp":0.51},{"pos":169.41,"logp":0.3},{"pos":170.02,"logp":0.24},{"pos":170.61,"logp":0.27},{"pos":171.09,"logp":0.44},{"pos":171.51,"logp":0.37},{"pos":171.81,"logp":0.51},{"pos":172.1,"logp":0.27},{"pos":172.4,"logp":0.51},{"pos":172.71,"logp":0.41},{"pos":173.0,"logp":0.57},{"pos":173.3,"logp":0.74},{"pos":173.71,"logp":0.98},{"pos":174.07,"logp":0.91},{"pos":174.5,"logp":0.57},{"pos":174.91,"logp":0.54},{"pos":175.39,"logp":0.61},{"pos":175.99,"logp":0.54},{"pos":176.58,"logp":0.78},{"pos":177.06,"logp":0.91},{"pos":177.47,"logp":0.66},{"pos":178.08,"logp":0.66},{"pos":178.67,"logp":0.74},{"pos":179.26,"logp":0.78},{"pos":179.69,"logp":0.68},{"pos":180.16,"logp":0.61},{"pos":180.77,"logp":0.54},{"pos":181.36,"logp":0.61},{"pos":181.85,"logp":0.78},{"pos":182.26,"logp":0.74},{"pos":182.56,"logp":0.81},{"pos":183.03,"logp":0.78},{"pos":183.28,"logp":1.15},{"pos":183.64,"logp":1.18},{"pos":183.87,"logp":1.15},{"pos":184.23,"logp":0.71},{"pos":184.64,"logp":0.61},{"pos":185.07,"logp":0.51},{"pos":185.54,"logp":0.74},{"pos":185.9,"logp":0.98},{"pos":186.26,"logp":0.61},{"pos":186.62,"logp":0.44},{"pos":186.86,"logp":0.57},{"pos":187.22,"logp":0.37},{"pos":187.51,"logp":0.61},{"pos":187.94,"logp":0.54},{"pos":188.41,"logp":0.57},{"pos":188.83,"logp":0.44},{"pos":189.25,"logp":0.47},{"pos":189.61,"logp":0.37},{"pos":190.02,"logp":0.51},{"pos":190.45,"logp":0.44},{"pos":190.91,"logp":0.49},{"pos":191.4,"logp":0.42},{"pos":191.81,"logp":0.47},{"pos":192.24,"logp":0.32},{"pos":192.71,"logp":0.37},{"pos":193.19,"logp":0.3},{"pos":193.6,"logp":0.37},{"pos":193.91,"logp":0.24},{"pos":194.39,"logp":0.34},{"pos":194.8,"logp":0.2},{"pos":195.4,"logp":0.47},{"pos":196.01,"logp":0.34},{"pos":196.42,"logp":0.14},{"pos":196.9,"logp":0.1},{"pos":197.49,"logp":0.08}
],
"causal": [
{"pos":4.16},{"pos":13.3},{"pos":15.36},{"pos":33.65},{"pos":35.52},{"pos":45.75},{"pos":47.3},{"pos":47.6},{"pos":47.9},{"pos":50.05},{"pos":56.63},{"pos":56.94},{"pos":58.01},{"pos":118.76},{"pos":122.94},{"pos":127.37},{"pos":135.72},{"pos":139.25},{"pos":141.04},{"pos":141.52},{"pos":196.47}
]
},
"title": {
"text": "Figure 1 p-Values from linkage and association tests.",
"subtitle": [
"\u200b\u2003\u2003\u2003\u2003\u2003\u2003\u2003\u2003\u2003\u2003\u2003\u2003\u2003\u2003\u2003\u2003\u2003\u2003\u2003\u2003\u2003\u2003\u2003\u2002 Here we present the chromosome locations of the 500 most significant single-",
"nucleotide polymorphisms (SNPs) on chromosome 3 identified by each method and their corresponding -log p-values. The triangles are the 500",
"most significant SNPs identified by the genome-wide association studies (GWAS) score test using unrelated individuals; the crosses are those",
"identified by FBAT, and the plusses are those identified by the gene-dropping test. The solid curve shows the -log p-values from the linkage test",
"at 449 evenly spaced SNPs (by comparing the linkage component of the gene-dropping test statistic with its Monte Carlo null distribution from",
"gene dropping). Solid vertical lines indicate the positions of truly influential SNPs on chromosome 3."
],
"orient": "bottom", "anchor": "start", "frame": "group", "dx": -63, "offset": 23,
"font": "Open Sans", "fontSize": 16.2, "fontWeight": "bold", "color": "#222222", "lineHeight": 24.6,
"subtitleFont": "Open Sans", "subtitleFontSize": 18.1, "subtitleFontWeight": "normal", "subtitleColor": "#222222", "subtitleLineHeight": 24.6, "subtitlePadding": -17.7
},
"layer": [
{
"data": {"name": "snps"},
"mark": {"type": "point", "filled": false, "strokeWidth": 1.3, "size": 169, "opacity": 1},
"encoding": {
"x": {"field": "pos", "type": "quantitative", "scale": {"domain": [-8.06, 205.6], "nice": false, "zero": false},
  "axis": {"values": [0, 50, 100, 150, 200], "labelExpr": "datum.value == 0 ? '0.0e+00' : datum.value == 50 ? '5.0e+07' : datum.value == 100 ? '1.0e+08' : datum.value == 150 ? '1.5e+08' : '2.0e+08'", "title": "SNP positions", "labelPadding": 1, "titlePadding": 1}},
"y": {"field": "logp", "type": "quantitative", "scale": {"domain": [-0.41, 10.41], "nice": false, "zero": false},
  "axis": {"values": [0, 2, 4, 6, 8, 10], "labelAngle": 270, "labelAlign": "center", "labelBaseline": "bottom", "labelPadding": 4, "title": "- log p-Values", "titlePadding": 7}},
"color": {"field": "method", "type": "nominal", "scale": {"domain": ["GWAS", "FBAT", "Gene dropping"], "range": ["#00FFFF", "#A52A2A", "#FF00FF"]},
  "legend": {"title": null, "orient": "none", "legendX": 378, "legendY": 19, "padding": 11, "strokeColor": "#000000", "fillColor": "#ffffff", "labelFont": "Liberation Sans", "labelFontSize": 18.5, "labelColor": "#000000", "symbolSize": 169, "symbolStrokeWidth": 1.3, "rowPadding": 5, "labelOffset": 9}},
"shape": {"field": "method", "type": "nominal", "scale": {"domain": ["GWAS", "FBAT", "Gene dropping"], "range": ["triangle-up", "M-0.8,-0.8L0.8,0.8M-0.8,0.8L0.8,-0.8", "M-1.15,0H1.15M0,-1.15V1.15"]}, "legend": null}
}
},
{
"data": {"name": "linkage"},
"mark": {"type": "line", "color": "#000000", "strokeWidth": 1.5, "interpolate": "linear"},
"encoding": {
"x": {"field": "pos", "type": "quantitative", "scale": {"domain": [-8.06, 205.6], "nice": false, "zero": false}, "axis": null},
"y": {"field": "logp", "type": "quantitative", "scale": {"domain": [-0.41, 10.41], "nice": false, "zero": false}, "title": "- log p-Values"}
}
},
{
"data": {"name": "causal"},
"mark": {"type": "rule", "color": "#000000", "strokeWidth": 1.4},
"encoding": {
"x": {"field": "pos", "type": "quantitative", "scale": {"domain": [-8.06, 205.6], "nice": false, "zero": false},
  "axis": {"orient": "top", "labels": false, "ticks": false, "domain": false, "title": "p-Values from linkage and association tests", "titlePadding": 16}}
}
}
],
"resolve": {"axis": {"x": "independent"}},
"config": {
"font": "Liberation Sans",
"view": {"stroke": "#808080", "strokeWidth": 1.5},
"axis": {"grid": false, "domain": false, "labelFont": "Liberation Sans", "labelFontSize": 19, "labelColor": "#000000", "titleFont": "Liberation Sans", "titleFontSize": 19, "titleFontWeight": "normal", "titleColor": "#000000", "tickColor": "#000000", "tickSize": 8, "tickWidth": 1}
}
}
